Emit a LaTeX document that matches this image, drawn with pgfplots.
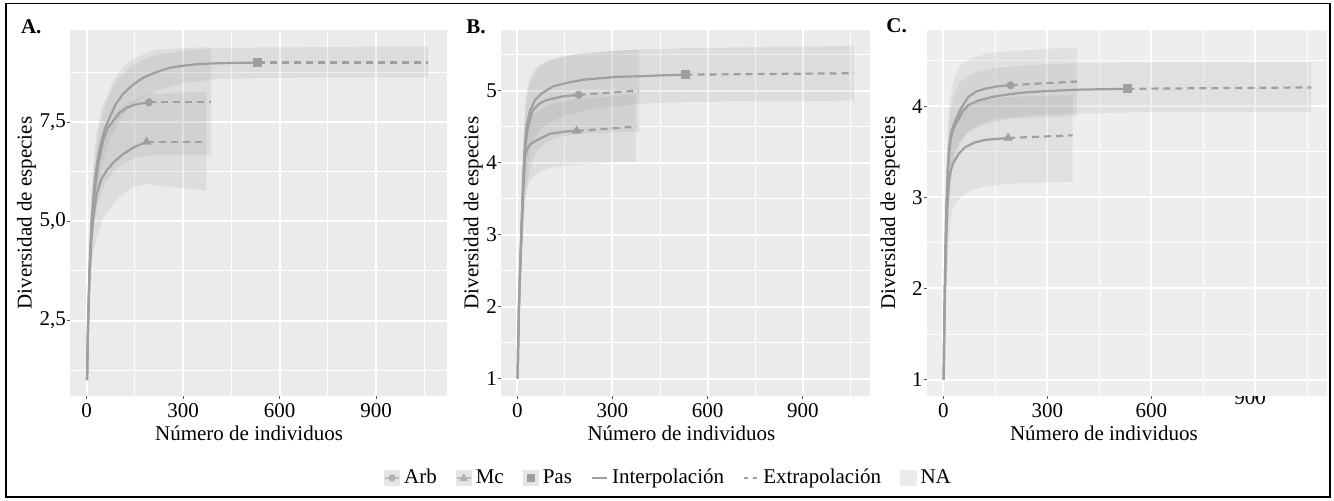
\documentclass[border=0pt]{standalone}
\usepackage{fontspec}
\setmainfont{Liberation Serif}
\usepackage{pgfplots}
\pgfplotsset{compat=1.18}

\definecolor{panel}{HTML}{EBEBEB}
\definecolor{panelc}{HTML}{EEEEEE}
\definecolor{curve}{HTML}{9F9F9F}
\definecolor{keybg}{HTML}{E6E6E6}

\pgfplotsset{
  rare/.style={
    scale only axis, anchor=south west,
    axis background/.style={fill=panel},
    axis line style={draw=none},
    grid=both,
    major grid style={white, line width=1pt},
    minor grid style={white, line width=0.5pt},
    tick style={black!65, line width=0.5pt},
    major tick length=1.5pt, minor tick length=0pt,
    tick align=outside, tick pos=left,
    xtick={0,300,600,900}, minor xtick={150,450,750,1050},
    xticklabel style={inner sep=2pt},
    yticklabel style={inner sep=0.4pt},
    /pgf/number format/assume math mode=true,
    xlabel={Número de individuos},
    ylabel={Diversidad de especies},
    xlabel style={anchor=base, yshift=-22pt},
    ylabel style={anchor=base, rotate=0},
  },
  band/.style={draw=none, fill=gray, fill opacity=0.12, forget plot},
  interp/.style={curve, line width=1.1pt, line join=round, forget plot},
  extrap/.style={curve, line width=1.1pt, dash pattern=on 3.5pt off 2.5pt, forget plot},
  pt/.style={curve, only marks, mark size=#1, forget plot},
}

\begin{document}
\fontsize{10.5}{12.6}\selectfont
\begin{tikzpicture}
\useasboundingbox (0,0) rectangle (667pt,250pt);
\draw[line width=0.75pt] (2.9pt,1.5pt) rectangle (665pt,248.3pt);

% ---------------- A: riqueza
\begin{axis}[rare, at={(35pt,52pt)}, width=188.5pt, height=183pt,
  xmin=-52, xmax=1120, ymin=0.6, ymax=9.82,
  ytick={2.5,5,7.5}, yticklabels={{2,5},{5,0},{7,5}},
  minor ytick={1.25,3.75,6.25,8.75},
  xlabel style={at={(axis description cs:0.475,0)}},
  ylabel style={at={(axis description cs:-0.1016,0.5)}}]
% bands
\addplot[band] coordinates {(1,1)(5,3.2)(10,4.9)(15,5.8)(20,6.4)(30,7.2)(45,7.8)(62,8.13)(80,8.5)(100,8.75)(124,8.97)(160,9.15)(207,9.31)(300,9.37)(387,9.39)
  (387,6.66)(300,6.66)(193,6.66)(150,6.6)(100,6.4)(60,6.0)(40,5.6)(25,5.0)(15,4.2)(10,3.6)(5,2.4)(1,1)};
\addplot[band] coordinates {(1,1)(5,3.0)(10,4.6)(15,5.5)(20,6.1)(30,6.9)(45,7.6)(60,8.0)(80,8.35)(100,8.6)(130,8.85)(170,9.05)(220,9.2)(300,9.3)(400,9.36)(531,9.38)(1062,9.4)
  (1062,8.62)(700,8.62)(531,8.61)(400,8.58)(300,8.48)(220,8.3)(170,8.1)(130,7.85)(100,7.5)(80,7.2)(60,6.8)(45,6.3)(30,5.6)(20,5.0)(15,4.5)(10,3.7)(5,2.4)(1,1)};
\addplot[band] coordinates {(1,1)(5,2.9)(10,4.3)(15,5.1)(20,5.6)(30,6.3)(45,6.9)(62,7.3)(90,7.7)(130,8.0)(186,8.2)(280,8.24)(372,8.26)
  (372,5.78)(280,5.85)(186,5.94)(140,5.85)(100,5.6)(70,5.3)(52,5.1)(31,4.6)(20,4.2)(15,3.8)(10,3.3)(5,2.2)(1,1)};
% curves
\addplot[interp] coordinates {(1,1)(3,2.0)(5,2.7)(8,3.6)(10,4.1)(15,5.0)(20,5.5)(26,6.1)(33,6.5)(41,6.87)(55,7.3)(72,7.63)(90,7.95)(114,8.22)(145,8.45)(176,8.62)(220,8.77)(259,8.87)(300,8.92)(342,8.96)(400,8.98)(450,8.99)(531,9.0)};
\addplot[extrap] coordinates {(531,9.0)(1062,9.0)};
\addplot[interp] coordinates {(1,1)(3,2.0)(5,2.7)(8,3.6)(10,4.0)(15,4.85)(20,5.4)(28,6.0)(36,6.45)(51,7.04)(65,7.35)(83,7.54)(100,7.72)(124,7.86)(150,7.94)(193,8.0)};
\addplot[extrap] coordinates {(193,8.0)(387,8.0)};
\addplot[interp] coordinates {(1,1)(3,1.95)(5,2.6)(8,3.4)(10,3.85)(15,4.6)(20,5.05)(31,5.69)(45,6.05)(62,6.28)(85,6.5)(114,6.7)(150,6.88)(186,7.0)};
\addplot[extrap] coordinates {(186,7.0)(372,7.0)};
\addplot[pt=1.8pt, mark=*] coordinates {(193,8.0)};
\addplot[pt=2.3pt, mark=triangle*] coordinates {(186,7.0)};
\addplot[pt=2pt, mark=square*] coordinates {(531,9.0)};
\end{axis}

% ---------------- B: Shannon
\begin{axis}[rare, at={(250.5pt,52pt)}, width=184.5pt, height=183pt,
  xmin=-51.4, xmax=1112, ymin=0.76, ymax=5.84,
  ytick={1,2,3,4,5}, minor ytick={1.5,2.5,3.5,4.5,5.5},
  xlabel style={at={(axis description cs:0.489,0)}},
  ylabel style={at={(axis description cs:-0.0615,0.5)}},
  legend style={at={(axis description cs:0.4566,-0.224)}, anchor=center,
    draw=none, fill=none, legend columns=6,
    /tikz/every even column/.append style={column sep=7.5pt}},
  legend cell align=left]
\addplot[band] coordinates {(1,1)(5,2.2)(10,3.1)(15,3.8)(20,4.4)(25,4.8)(32,5.05)(40,5.18)(50,5.27)(70,5.36)(100,5.42)(150,5.48)(208,5.52)(300,5.55)(400,5.57)(531,5.59)(1062,5.62)
  (1062,4.86)(531,4.84)(400,4.82)(300,4.78)(208,4.72)(150,4.65)(100,4.56)(70,4.45)(50,4.3)(40,4.15)(32,3.95)(25,3.7)(20,3.4)(15,3.0)(10,2.4)(5,1.8)(1,1)};
\addplot[band] coordinates {(1,1)(5,2.2)(10,3.1)(15,3.8)(20,4.35)(25,4.7)(32,4.95)(40,5.1)(50,5.2)(70,5.32)(100,5.42)(150,5.47)(193,5.5)(300,5.55)(384,5.57)
  (384,4.43)(300,4.42)(193,4.4)(150,4.37)(100,4.3)(70,4.2)(50,4.05)(40,3.9)(32,3.7)(25,3.45)(20,3.15)(15,2.8)(10,2.3)(5,1.8)(1,1)};
\addplot[band] coordinates {(1,1)(5,2.1)(10,2.95)(15,3.6)(20,4.05)(25,4.3)(32,4.48)(40,4.58)(60,4.7)(100,4.8)(187,4.88)(300,4.92)(373,4.95)
  (373,4.01)(300,4.0)(187,3.97)(156,3.96)(100,3.92)(72,3.88)(50,3.8)(40,3.74)(32,3.67)(24,3.55)(20,3.3)(15,2.8)(10,2.25)(5,1.7)(1,1)};
\addplot[interp] coordinates {(1,1)(3,1.55)(5,2.0)(8,2.45)(10,2.7)(12,2.9)(15,3.3)(18,3.7)(22,4.1)(26,4.35)(30,4.52)(40,4.72)(56,4.87)(80,4.97)(114,5.06)(160,5.11)(208,5.15)(260,5.17)(313,5.19)(400,5.2)(450,5.21)(531,5.22)};
\addplot[extrap] coordinates {(531,5.22)(1062,5.24)};
\addplot[interp] coordinates {(1,1)(3,1.55)(5,2.0)(8,2.45)(10,2.7)(12,2.9)(15,3.3)(18,3.65)(22,4.0)(26,4.25)(32,4.45)(40,4.6)(50,4.73)(70,4.82)(93,4.87)(145,4.92)(193,4.94)};
\addplot[extrap] coordinates {(193,4.94)(384,5.0)};
\addplot[interp] coordinates {(1,1)(3,1.5)(5,1.9)(8,2.35)(10,2.6)(12,2.85)(15,3.2)(18,3.55)(22,3.9)(24,4.08)(30,4.18)(40,4.25)(61,4.31)(103,4.40)(150,4.43)(187,4.44)};
\addplot[extrap] coordinates {(187,4.44)(377,4.5)};
\addplot[pt=1.8pt, mark=*] coordinates {(193,4.94)};
\addplot[pt=2.3pt, mark=triangle*] coordinates {(187,4.44)};
\addplot[pt=2pt, mark=square*] coordinates {(531,5.22)};
% legend
\addlegendimage{legend image code/.code={
  \fill[keybg] (0pt,-3.8pt) rectangle (7.6pt,3.8pt);
  \draw[curve!70, line width=0.6pt] (0.4pt,0pt) -- (7.2pt,0pt);
  \fill[curve!80] (3.8pt,0pt) circle (1.6pt);}}
\addlegendentry{Arb}
\addlegendimage{legend image code/.code={
  \fill[keybg] (0pt,-3.8pt) rectangle (7.6pt,3.8pt);
  \draw[curve!70, line width=0.6pt] (0.4pt,0pt) -- (7.2pt,0pt);
  \fill[curve!80] (3.8pt,2pt) -- (1.9pt,-1.3pt) -- (5.7pt,-1.3pt) -- cycle;}}
\addlegendentry{Mc}
\addlegendimage{legend image code/.code={
  \fill[keybg] (0pt,-3.8pt) rectangle (7.6pt,3.8pt);
  \fill[curve] (2pt,-1.8pt) rectangle (5.6pt,1.8pt);}}
\addlegendentry{Pas}
\addlegendimage{legend image code/.code={
  \draw[curve, line width=1.1pt] (0pt,0pt) -- (7.5pt,0pt);}}
\addlegendentry{Interpolación}
\addlegendimage{legend image code/.code={
  \draw[curve, line width=1.1pt, dash pattern=on 2pt off 2.5pt] (0.5pt,0pt) -- (7.5pt,0pt);}}
\addlegendentry{Extrapolación}
\addlegendimage{legend image code/.code={
  \fill[keybg!80!white] (0pt,-3.8pt) rectangle (7.8pt,3.8pt);}}
\addlegendentry{NA}
\end{axis}

% ---------------- C: Simpson
\begin{axis}[rare, at={(463.35pt,52pt)}, width=200pt, height=183pt,
  axis background/.style={fill=panelc},
  xmin=-48, xmax=1106, ymin=0.82, ymax=4.835,
  ytick={1,2,3,4}, minor ytick={1.5,2.5,3.5,4.5},
  xticklabels={0,300,600,{}},
  xlabel style={at={(axis description cs:0.443,0)}},
  ylabel style={at={(axis description cs:-0.079,0.5)}}]
\addplot[band] coordinates {(1,1)(5,2.6)(10,3.5)(15,3.9)(20,4.1)(30,4.3)(45,4.42)(60,4.48)(91,4.54)(130,4.58)(187,4.6)(300,4.63)(385,4.645)
  (385,3.89)(300,3.88)(194,3.86)(150,3.83)(100,3.77)(70,3.7)(50,3.6)(35,3.45)(25,3.3)(18,3.0)(12,2.6)(8,2.2)(5,1.9)(1,1)};
\addplot[band] coordinates {(1,1)(5,2.5)(10,3.35)(15,3.75)(20,3.95)(30,4.12)(45,4.25)(70,4.33)(100,4.38)(150,4.42)(250,4.45)(385,4.47)(531,4.48)(1062,4.48)
  (1062,3.93)(531,3.93)(385,3.92)(250,3.9)(150,3.86)(100,3.8)(70,3.72)(45,3.6)(30,3.45)(20,3.2)(15,2.9)(10,2.5)(5,1.9)(1,1)};
\addplot[band] coordinates {(1,1)(5,2.2)(10,3.0)(15,3.4)(20,3.6)(30,3.8)(45,3.93)(70,4.02)(100,4.07)(189,4.1)(373,4.12)
  (373,3.17)(300,3.16)(189,3.15)(120,3.12)(80,3.08)(50,3.0)(35,2.93)(25,2.85)(18,2.6)(12,2.2)(8,1.9)(5,1.6)(1,1)};
\addplot[interp] coordinates {(1,1)(3,1.7)(5,2.2)(8,2.75)(10,3.0)(13,3.3)(17,3.55)(22,3.7)(30,3.8)(38.5,3.87)(50,3.97)(72,4.10)(95,4.16)(120,4.19)(160,4.22)(194,4.23)};
\addplot[extrap] coordinates {(194,4.23)(385,4.27)};
\addplot[interp] coordinates {(1,1)(3,1.7)(5,2.2)(8,2.75)(10,3.0)(13,3.3)(17,3.5)(22,3.65)(30,3.76)(43,3.85)(55,3.94)(72,4.01)(100,4.06)(140,4.10)(190,4.13)(236,4.15)(300,4.165)(380,4.18)(531,4.19)};
\addplot[extrap] coordinates {(531,4.19)(1062,4.205)};
\addplot[interp] coordinates {(1,1)(3,1.6)(5,2.0)(8,2.5)(10,2.75)(13,3.0)(17,3.2)(22,3.3)(28,3.37)(34,3.41)(45,3.48)(63,3.55)(90,3.6)(120,3.63)(187,3.65)};
\addplot[extrap] coordinates {(187,3.65)(373,3.68)};
\addplot[pt=1.8pt, mark=*] coordinates {(194,4.23)};
\addplot[pt=2.3pt, mark=triangle*] coordinates {(187,3.65)};
\addplot[pt=2pt, mark=square*] coordinates {(531,4.19)};
\end{axis}

% panel tags
\node[anchor=base west, inner sep=0pt] at (10.3pt,233.3pt) {\textbf{A.}};
\node[anchor=base west, inner sep=0pt] at (233pt,233.3pt) {\textbf{B.}};
\node[anchor=base west, inner sep=0pt] at (443pt,233.8pt) {\textbf{C.}};
% the 900 label of panel C sits too high and is half hidden by the panel
\begin{scope}
  \clip (600pt,40pt) rectangle (650pt,52pt);
  \node[anchor=base, inner sep=0pt] at (625pt,47.8pt) {900};
\end{scope}
\end{tikzpicture}
\end{document}
